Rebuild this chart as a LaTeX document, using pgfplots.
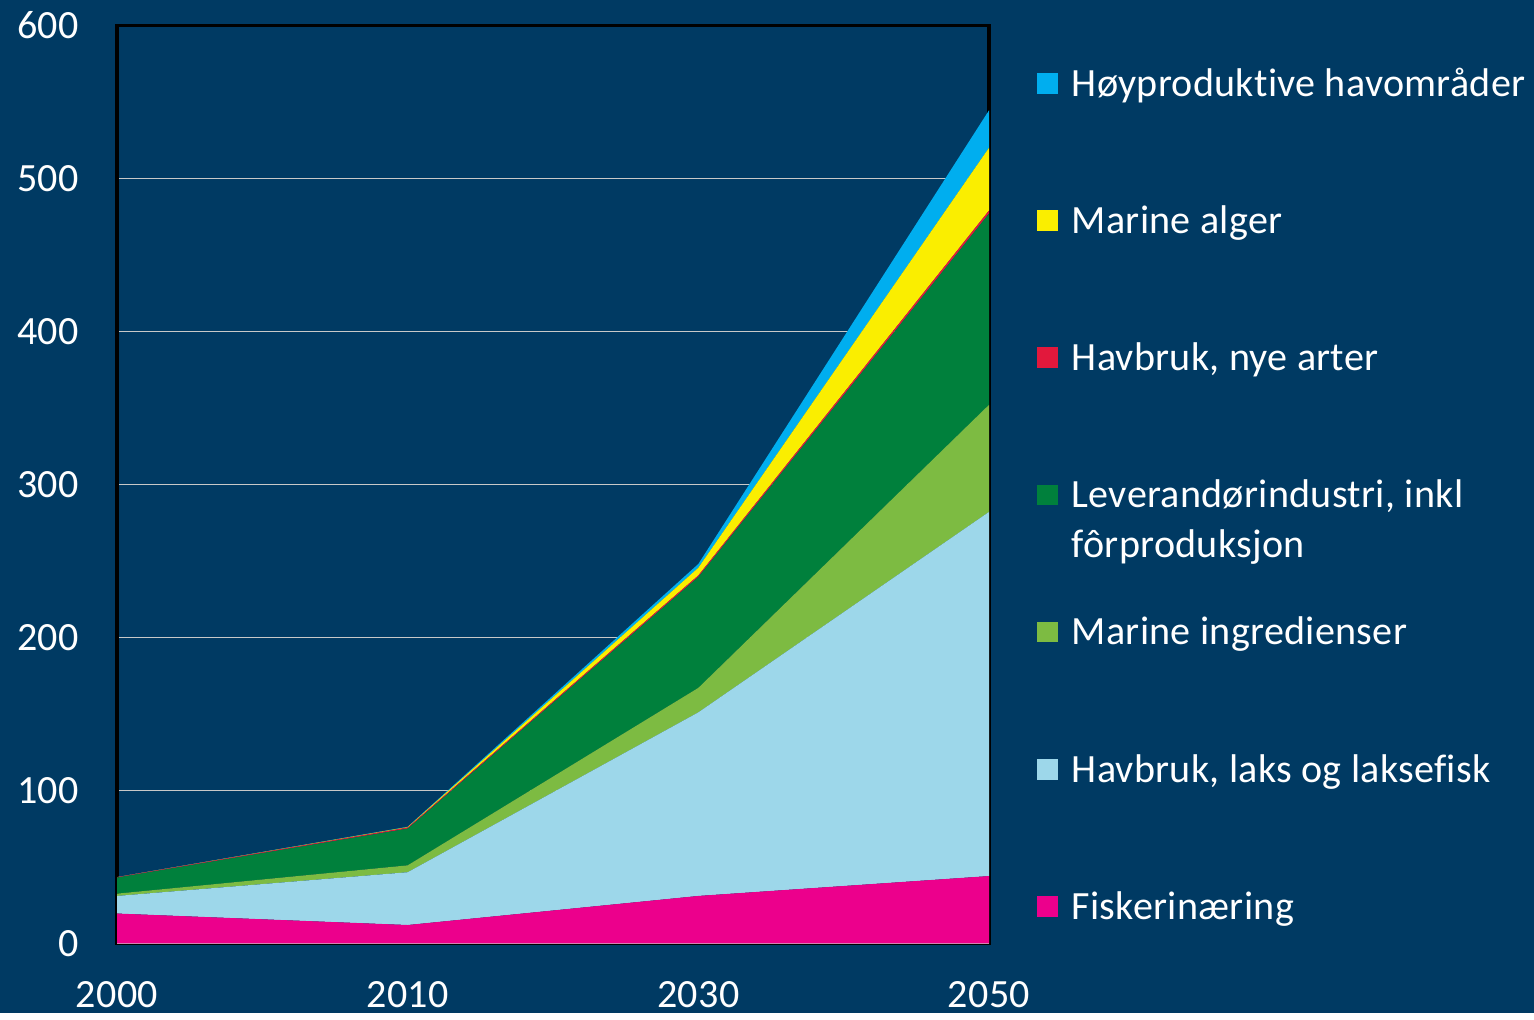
\documentclass[border=0pt]{standalone}
\usepackage{pgfplots}
\pgfplotsset{compat=1.18}
\usepackage{fontspec}
\setmainfont{Carlito}[Ligatures={NoCommon}, LetterSpace=0.8]
\definecolor{bg}{RGB}{0,58,99}
\definecolor{gridgray}{RGB}{200,200,200}
\definecolor{cpink}{RGB}{236,0,140}
\definecolor{clblue}{RGB}{157,215,234}
\definecolor{clgreen}{RGB}{125,187,66}
\definecolor{cdgreen}{RGB}{0,128,60}
\definecolor{cred}{RGB}{226,24,60}
\definecolor{cyellow}{RGB}{250,238,0}
\definecolor{cblue}{RGB}{0,174,239}
\newcommand{\lfont}{\fontsize{11.4}{14.2}\selectfont}
\begin{document}
\begin{tikzpicture}
\fill[bg] (0,0) rectangle (153.4mm,101.3mm);
\begin{axis}[
  at={(11.7mm,7.0mm)}, anchor=south west, scale only axis,
  width=87.2mm, height=91.8mm,
  xmin=0, xmax=3, ymin=0, ymax=600,
  xtick={0,1,2,3}, xticklabels={2000,2010,2030,2050},
  ytick={0,100,...,600},
  ymajorgrids, grid style={color=gridgray, line width=0.45pt},
  major tick length=0pt,
  axis line style={black, line width=0.9pt},
  axis background/.style={fill=bg},
  tick label style={font=\lfont, text=white},
  /pgf/number format/assume math mode=true,
  xticklabel style={yshift=-2.6mm},
  yticklabel style={xshift=-2.6mm},
  stack plots=y,
]
\addplot[fill=cpink, draw=none] coordinates {(0,19.5) (1,12) (2,31) (3,44)} \closedcycle;
\addplot[fill=clblue, draw=none] coordinates {(0,11.5) (1,34.5) (2,120) (3,238)} \closedcycle;
\addplot[fill=clgreen, draw=none] coordinates {(0,1.5) (1,4.5) (2,16) (3,70)} \closedcycle;
\addplot[fill=cdgreen, draw=none] coordinates {(0,10.5) (1,24) (2,72.5) (3,125)} \closedcycle;
\addplot[fill=cred, draw=none] coordinates {(0,0.3) (1,0.7) (2,1) (3,2)} \closedcycle;
\addplot[fill=cyellow, draw=none] coordinates {(0,0) (1,0.3) (2,5) (3,41)} \closedcycle;
\addplot[fill=cblue, draw=none] coordinates {(0,0) (1,0.2) (2,2.5) (3,24.5)} \closedcycle;
\draw[black, line width=0.9pt] (rel axis cs:0,0) -- (rel axis cs:0,1) -- (rel axis cs:1,1) -- (rel axis cs:1,0);
\draw[gridgray, line width=0.6pt] (rel axis cs:0,0) -- (rel axis cs:1,0);
\end{axis}
% legend
\foreach \i/\c/\t in {0/cblue/{Høyproduktive havområder},1/cyellow/{Marine alger},2/cred/{Havbruk, nye arter},3/cdgreen/{Leverandørindustri, inkl},4/clgreen/{Marine ingredienser},5/clblue/{Havbruk, laks og laksefisk},6/cpink/{Fiskerinæring}}{
  \fill[\c] (103.67mm,{101.3mm-7.27mm-13.72mm*\i}) rectangle ++(2.1mm,-2.06mm);
  \node[anchor=base west, inner sep=0pt, text=white, font=\lfont] at (107.1mm,{101.3mm-9.57mm-13.72mm*\i}) {\t};
}
\node[anchor=base west, inner sep=0pt, text=white, font=\lfont] at (107.1mm,{101.3mm-9.57mm-13.72mm*3-5.0mm}) {fôrproduksjon};
\end{tikzpicture}
\end{document}
